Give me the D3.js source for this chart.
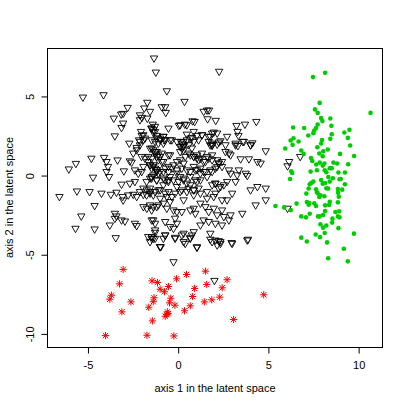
<!DOCTYPE html>
<html>
<head>
<meta charset="utf-8">
<script src="https://cdn.jsdelivr.net/npm/d3@7"></script>
<style>
  body { margin: 0; background: #fff; }
  text { font-family: "Liberation Sans", Arial, Helvetica, sans-serif; font-size: 11px; fill: #000; }
</style>
</head>
<body>
<script>
// cluster 1: black open down-triangles (axis1, axis2)
const triangles = [
  [-1.34,7.36],[-1.24,6.47],[-5.28,4.89],[-4.14,5.04],[-1.71,4.56],[-2.80,4.24],[-1.88,4.20],[-1.56,3.99],
  [-3.16,3.82],[-3.05,3.86],[-3.57,3.56],[-2.12,3.77],[-2.01,3.61],[-2.12,3.46],[-1.71,3.56],[-3.05,3.25],
  [-3.14,2.97],[-3.51,2.44],[-2.06,2.72],[-2.02,2.47],[-1.49,2.93],[-1.38,2.68],[-2.71,1.98],[-2.30,1.71],
  [-2.12,2.09],[-1.93,2.19],[-1.19,2.30],[-1.10,1.98],
  [2.27,6.52],[-0.63,5.29],[0.35,4.62],[-0.91,4.28],[-0.72,4.28],[-0.69,3.92],[1.41,3.99],[1.60,4.07],
  [1.71,4.07],[1.63,3.52],[2.08,3.42],[0.80,3.39],[0.91,3.35],[0.04,3.10],[0.37,3.18],[-0.54,2.93],
  [-1.41,3.18],[-1.47,2.93],[3.23,3.10],[3.70,3.18],[4.33,3.35],[3.29,2.72],[3.34,2.47],[3.58,2.09],
  [2.71,2.41],[1.88,2.61],[1.78,2.41],[1.97,2.68],[1.32,2.51],[1.04,2.47],[0.76,2.34],[0.48,2.55],
  [-1.28,2.72],[-1.19,2.47],[-0.82,2.41],[-0.78,2.19],[-0.35,2.19],[0.15,2.09],[0.30,1.87],[2.34,2.13],
  [2.16,1.92],[3.18,1.87],[4.01,1.87],[4.11,2.00],[1.78,1.87],[1.88,1.84],
  [-2.17,2.19],[-2.12,1.87],[-2.49,1.35],[-2.30,1.56],[-1.56,1.66],[-1.28,1.46],[-1.19,1.14],[-1.47,1.03],
  [-4.81,1.03],[-4.11,1.08],[-3.97,0.82],[-3.89,0.51],[-3.36,0.92],[-2.68,0.86],[-2.58,0.78],[-5.67,0.70],
  [-6.06,0.35],[-3.97,0.19],[-3.83,-0.13],[-4.72,-0.17],[-3.01,0.23],[-2.40,0.29],[-2.21,0.08],[-2.02,0.19],
  [-1.66,0.82],[-1.38,0.61],[-1.28,0.40],[-1.19,0.19],[-1.38,-0.03],[-1.56,-0.23],[-1.19,-0.34],[-3.14,-0.61],
  [-2.68,-0.55],[-2.40,-0.44],[-5.61,-1.04],[-4.91,-1.08],[-4.25,-1.18],[-3.73,-1.25],[-3.42,-1.12],[-6.58,-1.39],
  [-3.08,-1.39],[-3.05,-1.61],[-2.77,-1.29],[-2.49,-1.25],[-2.30,-1.39],[-2.12,-1.08],[-1.93,-1.25],[-1.74,-0.97],
  [-1.56,-1.18],[-1.28,-1.08],[-1.93,-2.03],[-1.74,-2.13],[-1.47,-2.24],[-1.19,-2.03],[-4.63,-1.96],[-5.37,-2.62],
  [-3.51,-2.45],[-3.42,-2.62],[-3.51,-2.77],[-3.14,-2.87],[-2.95,-2.94],[-2.40,-3.08],[-2.30,-3.23],[-1.47,-2.87],
  [-1.28,-3.08],[-5.69,-3.40],[-4.63,-3.44],[-3.79,-3.19],[-3.46,-3.99],[-1.66,-3.92],[-1.56,-4.24],[-1.38,-4.03],
  [-1.28,-3.65],[-1.00,-4.56],
  [-1.47,2.19],[-1.28,2.09],[-1.00,2.19],[-0.82,1.98],[-0.45,2.19],[-0.07,2.09],[0.20,1.98],[0.30,1.77],
  [0.58,1.88],[0.76,1.67],[0.86,2.09],[1.13,2.19],[1.69,2.09],[1.88,1.88],[2.25,2.05],[2.62,1.88],
  [3.18,1.98],[3.31,1.83],[3.64,2.09],[4.01,1.88],[4.85,1.50],
  [-1.19,1.45],[-1.10,1.24],[-0.91,1.35],[-0.45,1.24],[0.11,1.45],[0.30,1.56],[0.58,1.35],[0.86,1.14],
  [1.04,1.03],[1.32,1.35],[1.51,0.82],[1.69,1.03],[1.88,1.24],[2.16,0.93],[2.43,0.82],[2.62,1.45],
  [2.81,1.35],[2.90,1.24],[3.46,0.99],[3.92,0.99],[4.39,0.82],[4.57,0.72],
  [-1.56,0.61],[-1.38,0.51],[-1.19,0.30],[-1.00,0.19],[-0.82,0.82],[-0.72,0.40],[-0.54,0.19],[-0.35,0.40],
  [-0.07,0.29],[0.20,0.40],[0.48,0.29],[0.67,0.19],[0.95,0.29],[1.23,0.40],[1.51,0.19],[1.78,0.29],
  [2.06,0.40],[2.25,0.72],[2.43,0.51],[2.81,0.29],[2.90,0.08],[3.27,-0.02],[3.36,0.29],[3.74,0.08],[3.83,-0.06],
  [-1.47,-0.23],[-1.19,-0.34],[-0.82,-0.23],[-0.54,-0.34],[-0.26,-0.34],[0.02,-0.44],[0.30,-0.34],[0.48,-0.55],
  [0.67,-0.65],[1.04,-0.44],[1.23,-0.34],[1.88,-0.65],[2.06,-0.55],[2.25,-0.86],[2.34,-0.76],[2.53,-0.65],
  [2.71,-0.44],[2.99,-1.18],[3.18,-0.44],[4.01,-0.97],[4.39,-0.76],[4.85,-0.86],
  [-1.56,-1.08],[-1.38,-1.29],[-1.00,-0.97],[-0.72,-1.18],[-0.54,-1.08],[-0.35,-1.39],[-0.17,-1.18],[0.11,-1.08],
  [0.48,-1.08],[0.86,-0.97],[1.23,-1.18],[1.60,-1.50],[1.97,-1.39],[2.43,-1.60],[2.71,-1.60],[4.29,-1.92],[4.85,-1.60],
  [-1.56,-1.92],[-1.38,-2.03],[-1.10,-1.92],[-0.82,-1.81],[-0.63,-2.13],[-0.45,-1.71],[-0.26,-2.24],[-0.07,-2.34],
  [0.20,-2.34],[0.67,-2.24],[0.86,-2.13],[0.95,-2.45],[1.23,-1.81],[1.51,-2.03],[1.69,-2.34],[1.97,-2.13],
  [2.16,-2.55],[2.43,-2.24],[2.53,-2.66],[2.90,-2.55],[2.81,-2.87],[3.55,-2.45],
  [-1.38,-2.87],[-1.28,-3.50],[-0.72,-2.97],[-0.45,-3.29],[-0.26,-3.40],[-0.17,-2.76],[-0.07,-3.08],[0.30,-3.71],
  [0.67,-4.03],[0.86,-3.61],[1.23,-3.19],[1.41,-2.87],[1.69,-2.97],[2.06,-3.08],[2.43,-3.19],[-0.72,-3.82],
  [-0.82,-4.03],[-0.17,-4.03],[1.78,-3.71],[2.06,-4.14],[2.34,-4.24],[2.99,-4.35],[3.83,-4.14],[-1.47,-4.03],
  [-1.00,-4.56],[1.04,-4.56],
  [-1.47,-3.92],[-1.28,-4.03],[-0.72,-3.82],[-0.17,-3.97],[0.20,-3.82],[0.30,-4.24],[0.39,-4.35],[0.67,-3.97],
  [0.76,-3.82],[1.04,-4.60],[1.78,-4.09],[1.88,-4.24],[2.25,-4.18],[2.34,-4.35],[2.16,-4.45],[2.96,-4.30],
  [3.87,-4.09],[-0.97,-4.56],[-0.26,-5.51],[2.01,-6.69],
  [6.15,0.82],[6.06,0.55],[6.76,1.14],[6.06,-2.13],
  [-1.93,2.51],[-1.84,2.30],[-1.38,2.83],[-1.28,3.04],[-0.82,2.41],[-0.72,2.19],[-1.00,2.30],[0.11,3.14],
  [0.48,3.14],[0.86,2.72],[1.32,2.51],[1.69,2.41],[1.88,1.98],[2.16,2.62],[0.30,2.09],[0.48,2.19],
  [0.67,2.30],[0.11,1.77],[0.20,1.67],[-0.54,1.24],[-1.47,1.67],[-1.38,1.56],[-1.28,1.35],[-1.65,1.14],
  [-1.84,1.03],[-2.03,1.14],[-1.00,1.14],[-1.10,0.93],[-0.91,0.82],[-1.93,0.51],[-1.56,0.61],[-1.47,0.40],
  [-1.19,0.30],[-1.10,0.08],[-0.82,0.19],[-0.54,0.51],[-0.26,0.61],[-0.07,0.82],[0.11,0.93],[0.30,0.72],
  [0.39,1.14],[0.67,1.24],[0.86,1.14],[1.04,1.24],[1.13,0.93],[1.23,1.03],[1.41,0.82],[1.60,1.14],
  [1.88,0.93],[0.86,0.51],[1.04,0.30],[1.23,0.08],[1.41,0.19],[1.60,-0.13],[-0.07,0.08],[0.11,-0.13],
  [0.30,-0.23],[0.67,-0.13],[0.95,-0.34],[-0.45,-0.13],[-0.54,-0.44],[-0.72,-0.34],[-1.47,-0.13],[-1.75,-0.44],
  [-1.93,-0.86],[-1.56,-0.86],[-1.10,-0.97],[-0.82,-0.65],[-0.07,-0.76],[0.20,-0.97],[0.58,-0.86],[0.86,-0.97],
  [1.13,-0.86],[1.60,-1.08],[2.06,-0.55],[2.06,-1.18],[0.30,-1.60],[0.86,-1.29],[-0.63,-1.39],[-1.75,-1.29],
  [-1.00,-1.50],[1.88,0.19],[2.16,0.51],[2.25,0.72]
];

// cluster 2: green dots
const dots = [
  [7.47,6.22],[8.14,6.49],[10.66,3.96],[7.84,4.59],[7.58,4.18],[7.73,3.96],[7.92,3.63],[7.99,3.44],
  [8.43,3.61],[8.49,3.14],[7.73,3.23],[7.64,3.01],[7.54,2.85],[7.49,2.68],[7.21,2.53],[6.98,3.01],
  [6.37,3.04],[6.39,2.36],[6.23,2.22],[6.34,1.94],[6.67,2.15],[5.93,1.71],[8.51,2.61],[8.43,2.32],
  [7.97,2.25],[7.92,2.03],[7.71,1.79],[8.04,1.54],[8.29,1.65],[9.21,2.72],[9.49,2.89],[9.40,2.38],
  [9.53,1.90],[9.75,1.24],[8.97,1.37],[6.82,1.58],[6.95,1.37],[7.36,1.11],[7.43,0.92],[7.82,1.39],
  [8.01,1.22],[7.84,0.82],[7.65,0.70],[8.10,0.76],[8.60,0.82],[8.81,0.76],[9.42,0.72],[8.46,0.48],
  [8.01,0.63],[8.40,0.46],[8.51,0.46],[7.34,0.25],[7.69,0.34],[8.12,0.34],[8.21,0.21],[8.88,0.19],
  [9.24,0.19],[6.26,0.27],[6.32,0.16],[6.20,-0.22],[8.32,-0.09],[8.57,-0.17],[8.94,-0.23],[9.01,-0.22],
  [7.92,-0.28],[7.49,-0.38],[7.37,-0.47],[7.29,-0.55],[8.01,-0.51],[8.14,-0.47],[8.40,-0.38],[9.24,-0.55],
  [7.23,-0.82],[7.64,-0.87],[7.68,-1.04],[7.73,-1.12],[8.21,-0.80],[8.31,-0.82],[8.85,-0.85],[9.09,-0.89],
  [8.86,-1.08],[8.90,-1.33],[7.88,-1.25],[8.10,-1.31],[7.82,-1.35],[7.10,-1.14],[7.13,-1.67],[7.26,-1.73],
  [7.23,-1.84],[7.54,-1.75],[7.64,-1.92],[8.14,-1.88],[8.36,-1.86],[8.40,-1.65],[8.85,-1.69],[5.39,-1.92],
  [5.87,-2.01],[6.24,-2.18],[6.56,-1.77],[8.14,-2.24],[8.71,-2.30],[8.92,-2.26],[7.29,-2.41],[6.82,-2.58],
  [7.08,-2.64],[7.75,-2.58],[7.84,-2.58],[8.03,-2.49],[8.85,-2.58],[8.94,-2.64],[8.55,-2.72],[8.53,-2.97],
  [7.88,-3.08],[8.21,-3.16],[8.03,-3.29],[8.88,-3.32],[8.12,-3.63],[7.62,-3.72],[7.86,-3.89],[6.82,-3.92],
  [7.13,-4.16],[8.25,-4.22],[9.74,-3.67],[9.18,-4.62],[8.31,-5.22],[9.40,-5.42]
];

// cluster 3: red asterisks
const stars = [
  [-3.05,-5.93],[-3.25,-6.84],[-3.70,-7.56],[-3.79,-7.81],[-2.62,-7.98],[-3.12,-8.61],[-4.03,-10.11],[-1.73,-10.09],
  [-0.24,-10.13],[-1.43,-9.18],[-1.45,-6.65],[-1.15,-6.75],[-1.00,-7.18],[-0.76,-7.34],[-0.54,-7.01],[-0.09,-6.52],
  [0.46,-6.25],[1.51,-6.04],[2.71,-6.58],[1.58,-6.88],[2.44,-7.09],[0.91,-7.13],[0.80,-7.64],[1.45,-7.98],
  [1.86,-7.85],[2.30,-7.68],[4.74,-7.53],[3.07,-9.09],[0.67,-8.23],[0.35,-8.54],[-0.18,-8.19],[-0.48,-8.04],
  [-0.41,-7.75],[-1.34,-7.72],[-1.38,-7.97],[-1.63,-8.32],[-0.60,-8.61],[-0.63,-8.78],[-0.72,-8.89],[-0.56,-8.72]
];

const xTicks = [-5, 0, 5, 10];
const yTicks = [-10, -5, 0, 5];
const xTitle = 'axis 1 in the latent space';
const yTitle = 'axis 2 in the latent space';

const W = 407, H = 407;
const mLeft = 47, mRight = 383, mTop = 48, mBottom = 347;

// R style axis range: data extent plus 4% each side
function padded(vals) {
  const [lo, hi] = d3.extent(vals);
  const e = (hi - lo) * 0.04;
  return [lo - e, hi + e];
}
const all = triangles.concat(dots, stars);

const x = d3.scaleLinear().domain(padded(all.map(d => d[0]))).range([mLeft, mRight]);
const y = d3.scaleLinear().domain(padded(all.map(d => d[1]))).range([mBottom, mTop]);

const svg = d3.select('body').append('svg')
  .attr('width', W)
  .attr('height', H);

svg.append('rect').attr('width', W).attr('height', H).attr('fill', '#fff');

// points
svg.append('g').selectAll('path')
  .data(triangles)
  .enter()
  .append('path')
  .attr('d', d => {
    const cx = x(d[0]), cy = y(d[1]);
    return `M${cx - 3.7},${cy - 3.1}L${cx + 3.7},${cy - 3.1}L${cx},${cy + 3.3}Z`;
  })
  .attr('fill', 'none')
  .attr('stroke', '#000')
  .attr('stroke-width', 0.9);

svg.append('g').selectAll('circle')
  .data(dots)
  .enter()
  .append('circle')
  .attr('cx', d => x(d[0]))
  .attr('cy', d => y(d[1]))
  .attr('r', 2.3)
  .attr('fill', '#00cd00');

svg.append('g').selectAll('path')
  .data(stars)
  .enter()
  .append('path')
  .attr('d', d => {
    const cx = x(d[0]), cy = y(d[1]), a = 3.6, b = 2.7;
    return `M${cx - a},${cy}H${cx + a}M${cx},${cy - a}V${cy + a}` +
      `M${cx - b},${cy - b}L${cx + b},${cy + b}M${cx - b},${cy + b}L${cx + b},${cy - b}`;
  })
  .attr('fill', 'none')
  .attr('stroke', '#ff0000')
  .attr('stroke-width', 1);

// axes
const xAxis = svg.append('g')
  .attr('transform', `translate(0,${mBottom + 0.5})`)
  .call(d3.axisBottom(x).tickValues(xTicks).tickSize(6).tickFormat(d => String(d)));
xAxis.select('.domain').remove();
xAxis.selectAll('text').attr('y', 21).attr('dy', null).attr('font-size', 11)
  .attr('font-family', '"Liberation Sans", Arial, sans-serif').attr('fill', '#000');

const yAxis = svg.append('g')
  .attr('transform', `translate(${mLeft + 0.5},0)`)
  .call(d3.axisLeft(y).tickValues(yTicks).tickSize(6).tickFormat(d => String(d)));
yAxis.select('.domain').remove();
yAxis.selectAll('text')
  .attr('x', null).attr('dy', null)
  .attr('text-anchor', 'middle')
  .attr('font-size', 11)
  .attr('font-family', '"Liberation Sans", Arial, sans-serif')
  .attr('fill', '#000')
  .attr('transform', 'translate(-14,0) rotate(-90)');

svg.append('rect')
  .attr('x', mLeft + 0.5)
  .attr('y', mTop + 0.5)
  .attr('width', mRight - mLeft - 1)
  .attr('height', mBottom - mTop)
  .attr('fill', 'none')
  .attr('stroke', '#000');

svg.append('text')
  .attr('x', (mLeft + mRight) / 2)
  .attr('y', 392)
  .attr('text-anchor', 'middle')
  .text(xTitle);

svg.append('text')
  .attr('transform', `translate(12.5,${(mTop + mBottom) / 2}) rotate(-90)`)
  .attr('text-anchor', 'middle')
  .text(yTitle);
</script>
</body>
</html>
